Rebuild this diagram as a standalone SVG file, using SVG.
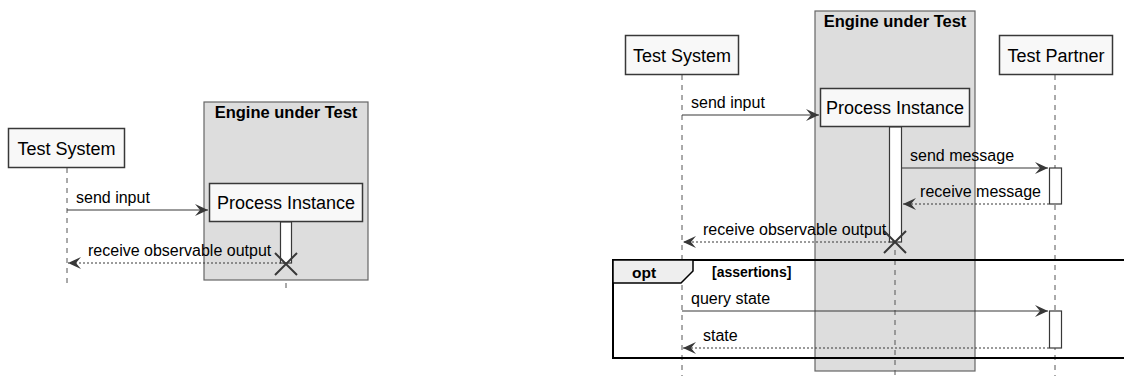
<svg xmlns="http://www.w3.org/2000/svg" width="1124" height="376" viewBox="0 0 1124 376">
  <defs>
    <style>
      text { font-family: "Liberation Sans", Arial, sans-serif; fill: #000; }
      .part { fill: #F8F8F8; stroke: #383838; stroke-width: 1.5; }
      .part-t { font-size: 18px; text-anchor: middle; }
      .box { fill: #DDDDDD; stroke: #666666; stroke-width: 1.2; }
      .box-t { font-size: 16.5px; font-weight: bold; text-anchor: middle; }
      .life { stroke: #555555; stroke-width: 1; stroke-dasharray: 5,5; fill: none; }
      .act { fill: #FFFFFF; stroke: #383838; stroke-width: 1.2; }
      .msg { stroke: #383838; stroke-width: 1.2; fill: none; }
      .ret { stroke: #383838; stroke-width: 1.2; fill: none; stroke-dasharray: 2,2; }
      .msg-t { font-size: 16px; }
      .kill { stroke: #383838; stroke-width: 2; }
      .frame { fill: none; stroke: #000000; stroke-width: 2; }
      .tab { fill: #EEEEEE; stroke: #000000; stroke-width: 1.5; }
    </style>
    <marker id="arr" viewBox="0 0 14 12" refX="13" refY="6" markerWidth="14" markerHeight="12" markerUnits="userSpaceOnUse" orient="auto">
      <path d="M0,0 L13,6 L0,12 L5,6 Z" fill="#383838"/>
    </marker>
  </defs>

  <!-- ===== Left: simple scenario ===== -->
  <g id="left-engine-box">
    <rect class="box" x="204" y="102" width="164" height="178"/>
    <text class="box-t" x="286" y="118">Engine under Test</text>
  </g>
  <g id="left-lifelines">
    <line class="life" x1="67" y1="168" x2="67" y2="288"/>
    <line class="life" x1="286" y1="283" x2="286" y2="288"/>
  </g>
  <g id="left-test-system">
    <rect class="part" x="8.5" y="128.5" width="116" height="39"/>
    <text class="part-t" x="66.5" y="155">Test System</text>
  </g>
  <g id="left-process-instance">
    <rect class="part" x="209.5" y="183.5" width="153" height="38"/>
    <text class="part-t" x="286" y="209">Process Instance</text>
    <rect class="act" x="280.5" y="222" width="11" height="41"/>
    <path class="kill" d="M275,253 L297,275 M297,253 L275,275"/>
  </g>
  <g id="left-connectors">
    <line class="msg" x1="67" y1="210" x2="208" y2="210" marker-end="url(#arr)"/>
    <text class="msg-t" x="76" y="203">send input</text>
    <line class="ret" x1="285" y1="263" x2="68" y2="263" marker-end="url(#arr)"/>
    <text class="msg-t" x="88" y="256">receive observable output</text>
  </g>

  <!-- ===== Right: scenario with partner and assertions ===== -->
  <g id="right-engine-box">
    <rect class="box" x="815" y="11" width="160" height="360"/>
    <text class="box-t" x="895" y="27">Engine under Test</text>
  </g>
  <g id="right-lifelines">
    <line class="life" x1="682" y1="75" x2="682" y2="376"/>
    <line class="life" x1="895" y1="250" x2="895" y2="376"/>
    <line class="life" x1="1055" y1="75" x2="1055" y2="376"/>
  </g>
  <g id="right-test-system">
    <rect class="part" x="625.5" y="35.5" width="113" height="39"/>
    <text class="part-t" x="682" y="62">Test System</text>
  </g>
  <g id="right-test-partner">
    <rect class="part" x="999.5" y="35.5" width="113" height="39"/>
    <text class="part-t" x="1056" y="62">Test Partner</text>
    <rect class="act" x="1049.5" y="168" width="12" height="36"/>
    <rect class="act" x="1049.5" y="311" width="12" height="37"/>
  </g>
  <g id="right-process-instance">
    <rect class="part" x="820.5" y="88.5" width="149" height="38"/>
    <text class="part-t" x="895" y="114">Process Instance</text>
    <rect class="act" x="889.5" y="127" width="12" height="115"/>
    <path class="kill" d="M884,231 L906,253 M906,231 L884,253"/>
  </g>
  <g id="opt-fragment">
    <rect class="frame" x="613" y="260" width="520" height="98"/>
    <path class="tab" d="M613,260 L693,260 L693,271 L681,283 L613,283 Z"/>
    <text x="632" y="278" style="font-size:15.5px;font-weight:bold">opt</text>
    <text x="712" y="277" style="font-size:14px;font-weight:bold">[assertions]</text>
  </g>
  <g id="right-connectors">
    <line class="msg" x1="682" y1="115" x2="819" y2="115" marker-end="url(#arr)"/>
    <text class="msg-t" x="691" y="108">send input</text>
    <line class="msg" x1="902" y1="168" x2="1048" y2="168" marker-end="url(#arr)"/>
    <text class="msg-t" x="910" y="161">send message</text>
    <line class="ret" x1="1049" y1="204" x2="903" y2="204" marker-end="url(#arr)"/>
    <text class="msg-t" x="1041" y="197" text-anchor="end">receive message</text>
    <line class="ret" x1="894" y1="242" x2="683" y2="242" marker-end="url(#arr)"/>
    <text class="msg-t" x="703" y="235">receive observable output</text>
    <line class="msg" x1="682" y1="311" x2="1048" y2="311" marker-end="url(#arr)"/>
    <text class="msg-t" x="691" y="304">query state</text>
    <line class="ret" x1="1049" y1="348" x2="683" y2="348" marker-end="url(#arr)"/>
    <text class="msg-t" x="703" y="341">state</text>
  </g>
</svg>
